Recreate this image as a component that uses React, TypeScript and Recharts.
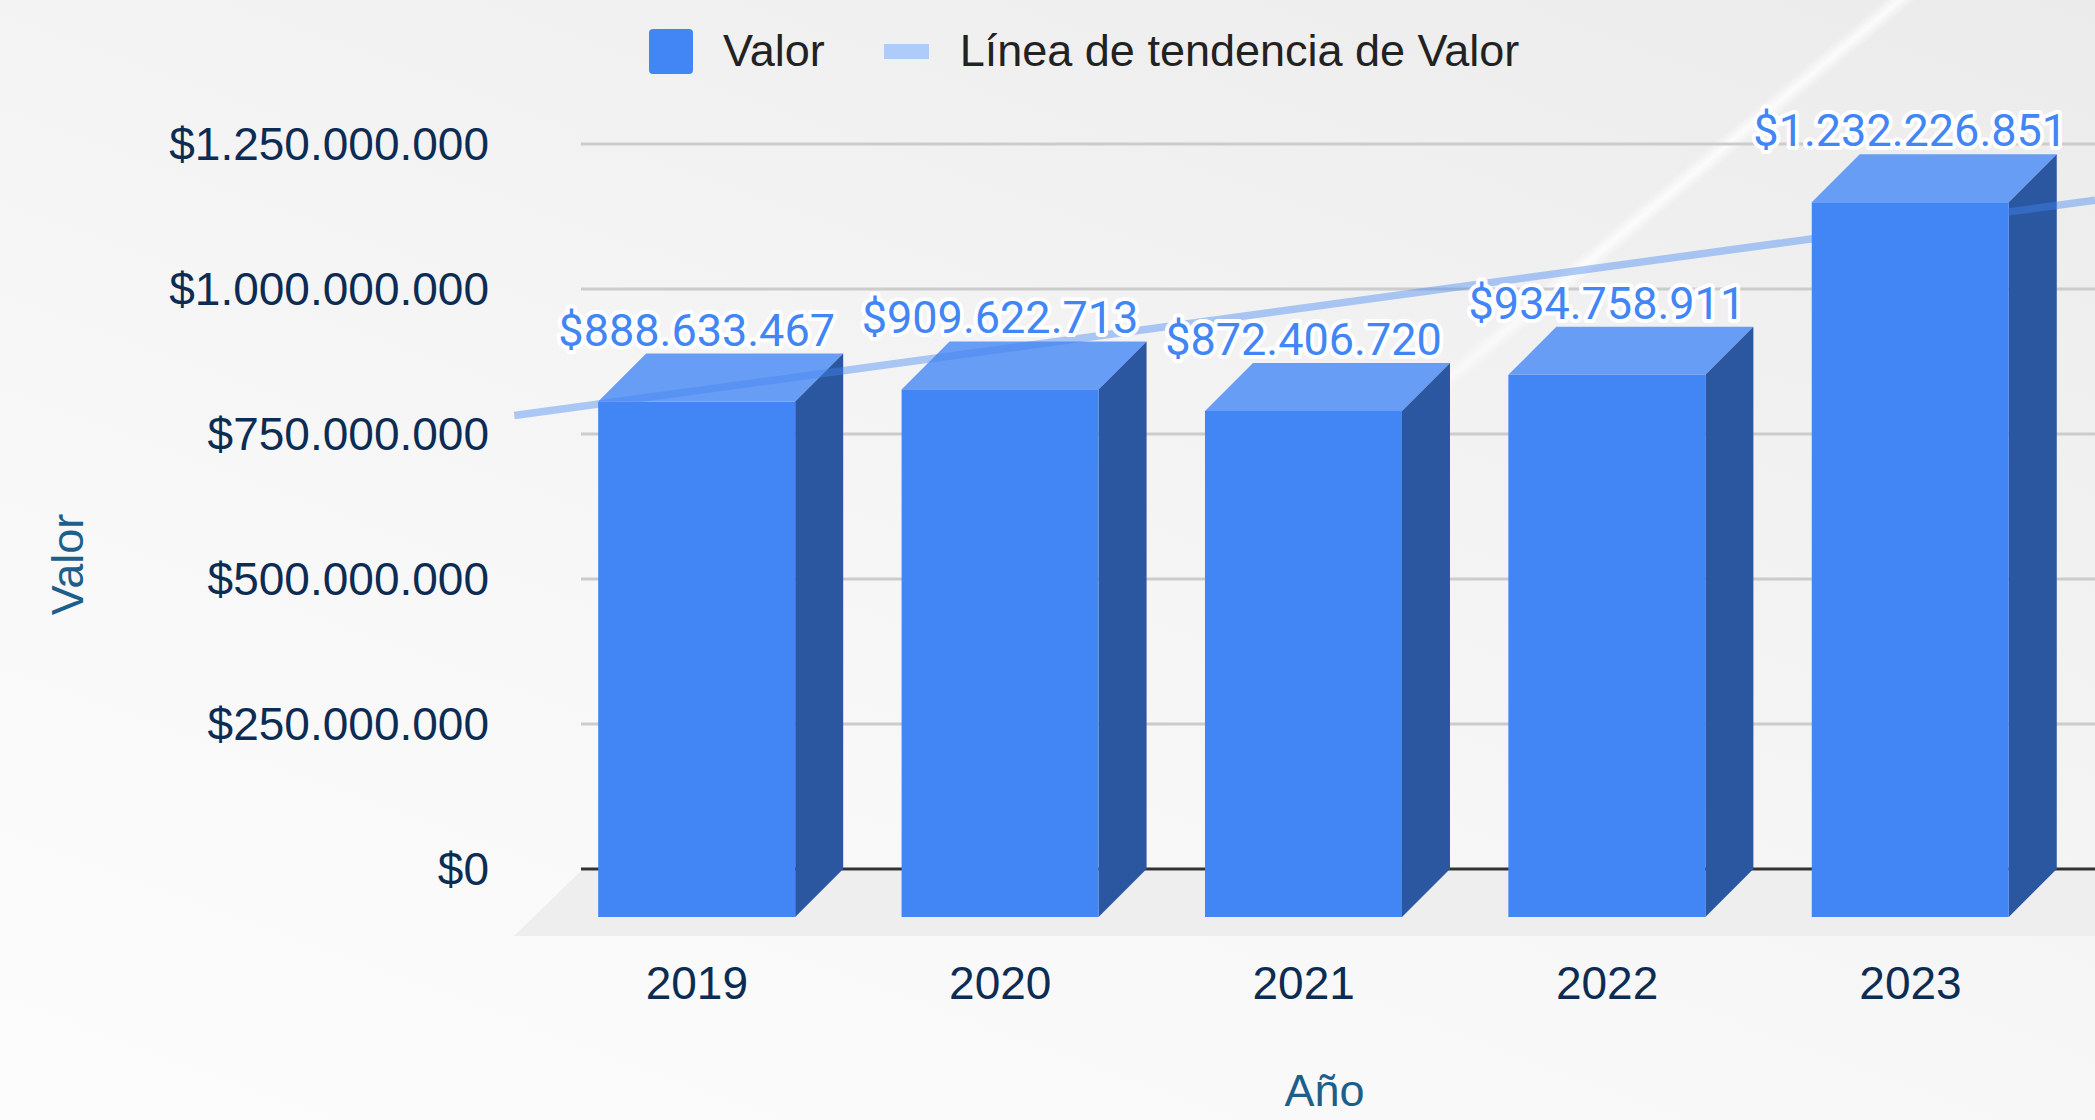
import React from 'react';
import { ComposedChart, Bar, Line, XAxis, YAxis, CartesianGrid, Legend, LabelList } from 'recharts';

const years = ['2019', '2020', '2021', '2022', '2023'];
const values = [888633467, 909622713, 872406720, 934758911, 1232226851];
const yTicks = [0, 250000000, 500000000, 750000000, 1000000000, 1250000000];
// trend line as read where it enters and leaves the plot (category position, value)
const trendPos = [-0.76, 4.45];
const trendValues = [782000000, 1153000000];

const rows = years.map((year, i) => ({ pos: i, year, value: values[i] }));
const trendRows = trendPos.map((pos, i) => ({ pos, trend: trendValues[i] }));

const W = 2095;
const H = 1120;
const DEPTH = 48; // offset of the bar front faces
const FLOOR = 67; // depth of the floor
const X_DOMAIN = [-0.761, 4.45];

const sans = '"Liberation Sans", Arial, sans-serif';
const navy = '#0d2c54';
const blue = '#4285f4';

const money = (v: number) => '$' + Math.round(v).toString().replace(/\B(?=(\d{3})+(?!\d))/g, '.');

const gridLine = (p: any) => {
  const { x1, x2, y1 } = p;
  const bottom = Number(p.y) + Number(p.height);
  const isBase = Number.isFinite(bottom) ? Math.abs(y1 - bottom) < 1 : p.index === 0;
  if (isBase) {
    return (
      <g key={p.key}>
        <polygon
          points={`${x1 + FLOOR},${y1 + 2} ${x2},${y1 + 2} ${x2},${y1 + FLOOR} ${x1},${y1 + FLOOR}`}
          fill="#eeeeee"
        />
        <line x1={x1 + FLOOR} x2={x2} y1={y1} y2={y1} stroke="#333333" strokeWidth={3} />
      </g>
    );
  }
  return <line key={p.key} x1={x1 + FLOOR} x2={x2} y1={y1} y2={y1} stroke="#cccccc" strokeWidth={3} />;
};

const BarSides = (p: any) => {
  const { x, y, width: w, height: h } = p;
  return (
    <g>
      <polygon points={`${x - DEPTH},${y + DEPTH} ${x},${y} ${x + w},${y} ${x + w - DEPTH},${y + DEPTH}`} fill="#689df5" />
      <polygon
        points={`${x + w - DEPTH},${y + DEPTH} ${x + w},${y} ${x + w},${y + h} ${x + w - DEPTH},${y + h + DEPTH}`}
        fill="#2b57a0"
      />
    </g>
  );
};

const BarFront = (p: any) => (
  <rect x={p.x - DEPTH} y={p.y + DEPTH} width={p.width} height={p.height} fill={blue} />
);

const ValueLabel = (p: any) => {
  const x = Number(p.x) + Number(p.width) / 2 - DEPTH;
  const y = Number(p.y) - 8;
  return (
    <text
      x={x}
      y={y}
      textAnchor="middle"
      fill={blue}
      stroke="#ffffff"
      strokeWidth={8}
      strokeLinejoin="round"
      paintOrder="stroke"
      fontSize={45}
      fontFamily="Roboto, sans-serif"
    >
      {money(p.value)}
    </text>
  );
};

const YearTick = (p: any) => (
  <text x={p.x - DEPTH} y={p.y + 130} textAnchor="middle" fill={navy} fontSize={46} fontFamily={sans}>
    {years[p.payload.value]}
  </text>
);

const YTitle = (p: any) => {
  const vb = p.viewBox;
  const x = vb.x + 83;
  const y = vb.y + vb.height / 2 + 58;
  return (
    <text x={x} y={y} transform={`rotate(-90 ${x} ${y})`} textAnchor="middle" fill="#1d5f8a" fontSize={45} fontFamily={sans}>
      Valor
    </text>
  );
};

const XTitle = (p: any) => {
  const vb = p.viewBox;
  return (
    <text x={vb.x + vb.width / 2 + 20} y={vb.y + vb.height - 14} textAnchor="middle" fill="#1d5f8a" fontSize={45} fontFamily={sans}>
      Año
    </text>
  );
};

const LegendContent = (props: any) => {
  const items = (props.payload || [])
    .filter((e: any) => e.type !== 'none')
    .sort((a: any, b: any) => (a.type === 'line' ? 1 : 0) - (b.type === 'line' ? 1 : 0));
  return (
    <div style={{ display: 'flex', alignItems: 'center', fontFamily: sans, fontSize: 45, color: '#222222', whiteSpace: 'nowrap' }}>
      {items.map((e: any, i: number) => (
        <div key={i} style={{ display: 'flex', alignItems: 'center', marginLeft: i ? 59 : 0 }}>
          {e.type === 'line' ? (
            <span style={{ width: 45, height: 15, background: '#aecbfa', marginRight: 31 }} />
          ) : (
            <span style={{ width: 44, height: 45, background: blue, borderRadius: 4, marginRight: 30 }} />
          )}
          <span>{e.value}</span>
        </div>
      ))}
    </div>
  );
};

export default function App() {
  return (
    <div
      style={{
        position: 'fixed',
        left: 0,
        top: 0,
        width: W,
        height: H,
        overflow: 'hidden',
        background: 'linear-gradient(200deg, #ebebeb 0%, #f2f2f2 35%, #f8f8f8 65%, #fcfcfc 100%)',
      }}
    >
      <div
        style={{
          position: 'absolute',
          inset: 0,
          background:
            'linear-gradient(140deg, rgba(255,255,255,0) 54.9%, rgba(255,255,255,0.8) 55.4%, rgba(255,255,255,0) 55.9%)',
          WebkitMaskImage: 'linear-gradient(to bottom, #000 0%, #000 25%, transparent 50%)',
          maskImage: 'linear-gradient(to bottom, #000 0%, #000 25%, transparent 50%)',
        }}
      />
      <ComposedChart width={W} height={H} data={rows} margin={{ top: 144, right: 0, bottom: 0, left: 0 }}>
        <CartesianGrid vertical={false} horizontal={gridLine} />
        <XAxis
          dataKey="pos"
          type="number"
          domain={X_DOMAIN}
          ticks={rows.map((r) => r.pos)}
          interval={0}
          height={251}
          axisLine={false}
          tickLine={false}
          tickSize={0}
          tickMargin={0}
          tick={<YearTick />}
          label={{ content: XTitle }}
        />
        <XAxis xAxisId="front" dataKey="pos" type="number" domain={X_DOMAIN} hide />
        <XAxis xAxisId="trend" dataKey="pos" type="number" domain={X_DOMAIN} hide />
        <YAxis
          domain={[yTicks[0], yTicks[yTicks.length - 1]]}
          ticks={yTicks}
          width={514}
          axisLine={false}
          tickLine={false}
          tickSize={0}
          tickMargin={25}
          tickFormatter={money}
          tick={{ fill: navy, fontSize: 46, fontFamily: sans }}
          label={{ content: YTitle }}
        />
        <Legend
          verticalAlign="middle"
          align="center"
          content={LegendContent}
          wrapperStyle={{ top: 25, left: 649, width: 'auto', height: 'auto' }}
        />
        <Bar dataKey="value" name="Valor" fill={blue} barSize={197} shape={BarSides} isAnimationActive={false} />
        <Line
          xAxisId="trend"
          data={trendRows}
          dataKey="trend"
          name="Línea de tendencia de Valor"
          type="linear"
          stroke={blue}
          strokeOpacity={0.42}
          strokeWidth={7.5}
          dot={false}
          activeDot={false}
          isAnimationActive={false}
        />
        <Bar
          xAxisId="front"
          dataKey="value"
          legendType="none"
          fill={blue}
          barSize={197}
          shape={BarFront}
          isAnimationActive={false}
        >
          <LabelList dataKey="value" content={ValueLabel} />
        </Bar>
      </ComposedChart>
    </div>
  );
}
